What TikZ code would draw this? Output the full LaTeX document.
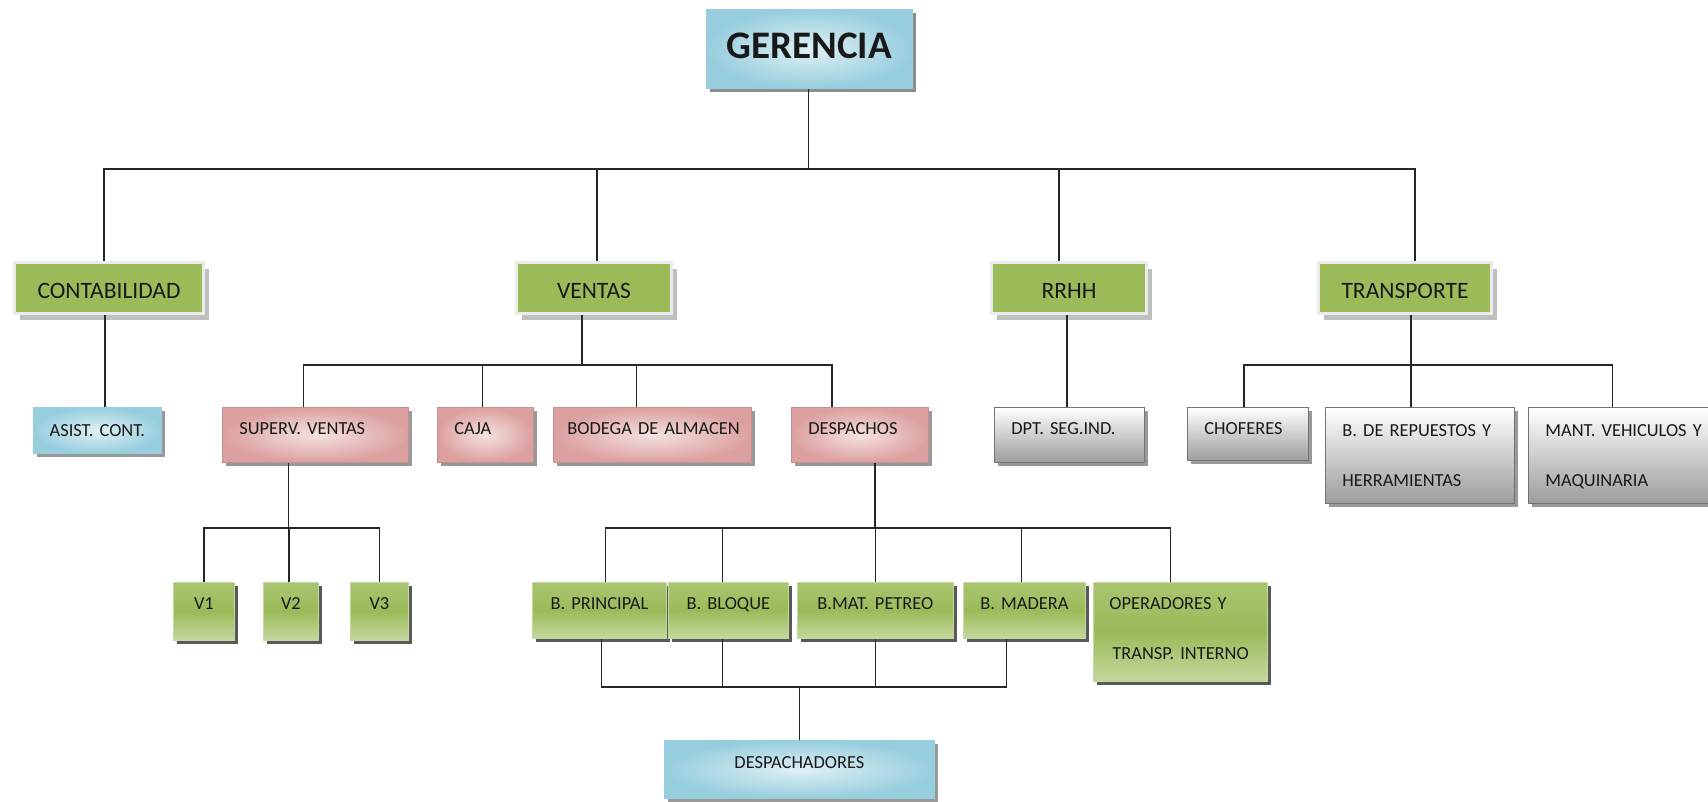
\documentclass[tikz,border=0pt]{standalone}
\usepackage{fontspec}
\setmainfont{Carlito}
\usetikzlibrary{shadows}
\definecolor{deptGreen}{HTML}{9BBB59}
\definecolor{frameGray}{HTML}{EBEBEB}
\definecolor{blueLight}{HTML}{E0F0F5}
\definecolor{blueDark}{HTML}{97CEDD}
\definecolor{pinkLight}{HTML}{F4E2E1}
\definecolor{pinkDark}{HTML}{DBA09F}
\definecolor{grayDark}{HTML}{9C9C9C}
\definecolor{greenLight}{HTML}{C4D79E}
\definecolor{greenTop}{HTML}{A9C571}

\begin{document}
\begin{tikzpicture}[x=1pt, y=-1pt]
  \tikzset{
    every node/.style={inner sep=0pt, text=black!90},
    chart line/.style={draw=black!85, line width=1.2pt},
    ceo/.style={anchor=north west, inner color=blueLight, outer color=blueDark, draw=blueDark,
      line width=0.8pt, font=\bfseries\fontsize{39}{44}\selectfont, align=center,
      text height=49.5pt, text depth=29.5pt,
      drop shadow={shadow xshift=4pt, shadow yshift=-4pt, fill=black!45, opacity=1}},
    dept/.style={anchor=north west, fill=deptGreen, draw=frameGray, line width=3pt,
      font=\fontsize{23.5}{28}\selectfont, align=center, text height=35.6pt, text depth=15.4pt,
      drop shadow={shadow xshift=5pt, shadow yshift=-6pt, fill=black!25, opacity=1}},
    unit/.style={anchor=north west, font=\fontsize{18.4}{50}\selectfont, inner xsep=17pt,
      inner ysep=0pt, align=left, text height=27.3pt, text depth=27.7pt, line width=0.8pt},
    mid/.style={inner xsep=0pt, align=center},
    bluebox/.style={inner color=blueLight, outer color=blueDark, draw=blueDark,
      drop shadow={shadow xshift=4pt, shadow yshift=-4pt, fill=black!40, opacity=1}},
    pinkbox/.style={inner color=pinkLight, outer color=pinkDark, draw=pinkDark!90!black,
      drop shadow={shadow xshift=4pt, shadow yshift=-4pt, fill=black!40, opacity=1}},
    graybox/.style={top color=white, bottom color=grayDark, draw=black!55,
      drop shadow={shadow xshift=4pt, shadow yshift=-4pt, fill=black!40, opacity=1}},
    greenbox/.style={top color=greenTop, bottom color=greenLight, middle color=deptGreen,
      draw=greenLight,
      drop shadow={shadow xshift=4pt, shadow yshift=-4pt, fill=black!65, opacity=1}}
  }
  \useasboundingbox (0,0) rectangle (1708,801);

  \node[ceo, text width=206pt] (ger) at (706,9) {GERENCIA};

  \node[dept, text width=189pt] (contab) at (13,261) {CONTABILIDAD};
  \node[dept, text width=155pt] (ventas) at (515,261) {VENTAS};
  \node[dept, text width=155pt] (rrhh) at (990,261) {RRHH};
  \node[dept, text width=173pt] (transp) at (1317,261) {TRANSPORTE};

  \node[unit, bluebox, mid, text width=128pt, text height=28.9pt, text depth=17.1pt] (asist) at (33,407) {ASIST. CONT.};
  \node[unit, pinkbox, text width=152pt] (superv) at (222,407) {SUPERV. VENTAS};
  \node[unit, pinkbox, text width=62pt] (caja) at (437,407) {CAJA};
  \node[unit, pinkbox, inner xsep=14pt, text width=170pt] (bodega) at (553,407) {\mbox{BODEGA DE ALMACEN}};
  \node[unit, pinkbox, text width=103pt] (desp) at (791,407) {DESPACHOS};
  \node[unit, graybox, text width=116pt] (dpt) at (994,407) {DPT. SEG.IND.};
  \node[unit, graybox, text width=87pt, text depth=25.7pt] (chof) at (1187,407) {CHOFERES};
  \node[unit, graybox, text width=155pt, text height=28.9pt, text depth=67.1pt] (brep) at (1325,407) {\mbox{B. DE REPUESTOS Y}\\HERRAMIENTAS};
  \node[unit, graybox, text width=166pt, text height=28.9pt, text depth=67.1pt] (mant) at (1528,407) {\mbox{MANT. VEHICULOS Y}\\MAQUINARIA};

  \node[unit, greenbox, mid, text width=61pt, text depth=30.7pt] (v1) at (173,582) {V1};
  \node[unit, greenbox, mid, text width=55pt, text depth=30.7pt] (v2) at (263,582) {V2};
  \node[unit, greenbox, mid, text width=58pt, text depth=30.7pt] (v3) at (350,582) {V3};

  \node[unit, greenbox, mid, text width=134pt, text depth=28.7pt] (bprin) at (532,582) {B. PRINCIPAL};
  \node[unit, greenbox, mid, text width=120pt, text depth=28.7pt] (bbloq) at (668,582) {B. BLOQUE};
  \node[unit, greenbox, mid, text width=156pt, text depth=28.7pt] (bmat) at (797,582) {B.MAT. PETREO};
  \node[unit, greenbox, mid, text width=122pt, text depth=28.7pt] (bmad) at (963,582) {B. MADERA};
  \node[unit, greenbox, inner xsep=16pt, text width=142pt, text depth=71.7pt] (oper) at (1093,582) {OPERADORES Y\\\hspace*{3pt}\mbox{TRANSP. INTERNO}};

  \node[unit, bluebox, mid, text width=270pt, text height=27.9pt, text depth=30.1pt] (despach) at (664,740) {DESPACHADORES};

  \coordinate (bus0) at (0,169);
  \coordinate (bus1) at (0,365);
  \coordinate (bus2) at (0,528);
  \coordinate (bus3) at (0,687);

  \draw[chart line] ([xshift=-1pt]ger.south) -- ([xshift=-1pt]ger.south |- bus0);
  \draw[chart line] ([xshift=-5pt]contab.north) |- ([xshift=10pt]transp.north |- bus0) -- ([xshift=10pt]transp.north);
  \draw[chart line] ([xshift=3pt]ventas.north) -- ([xshift=3pt]ventas.north |- bus0);
  \draw[chart line] ([xshift=-10pt]rrhh.north) -- ([xshift=-10pt]rrhh.north |- bus0);

  \draw[chart line] ([xshift=-4pt]contab.south) -- ([xshift=-4pt]contab.south |- asist.north);
  \draw[chart line] ([xshift=-12pt]ventas.south) -- ([xshift=-12pt]ventas.south |- bus1);
  \draw[chart line] ([xshift=-12pt]superv.north) |- ([xshift=-28pt]desp.north |- bus1) -- ([xshift=-28pt]desp.north);
  \draw[chart line] ([xshift=-3pt]caja.north) -- ([xshift=-3pt]caja.north |- bus1);
  \draw[chart line] ([xshift=-16pt]bodega.north) -- ([xshift=-16pt]bodega.north |- bus1);
  \draw[chart line] ([xshift=-2pt]rrhh.south) -- ([xshift=-2pt]rrhh.south |- dpt.north);
  \draw[chart line] ([xshift=6pt]transp.south) -- ([xshift=6pt]transp.south |- bus1);
  \draw[chart line] ([xshift=-4pt]chof.north) |- ([xshift=-16pt]mant.north |- bus1) -- ([xshift=-16pt]mant.north);
  \draw[chart line] ([xshift=-9pt]brep.north) -- ([xshift=-9pt]brep.north |- bus1);

  \draw[chart line] ([xshift=-27pt]superv.south) -- ([xshift=-27pt]superv.south |- bus2);
  \draw[chart line] (v1.north) |- (v3.north |- bus2) -- (v3.north);
  \draw[chart line] ([xshift=-2pt]v2.north) -- ([xshift=-2pt]v2.north |- bus2);

  \draw[chart line] ([xshift=15pt]desp.south) -- ([xshift=15pt]desp.south |- bus2);
  \draw[chart line] ([xshift=6pt]bprin.north) |- ([xshift=-10pt]oper.north |- bus2) -- ([xshift=-10pt]oper.north);
  \draw[chart line] ([xshift=-6pt]bbloq.north) -- ([xshift=-6pt]bbloq.north |- bus2);
  \draw[chart line] (bmat.north) -- (bmat.north |- bus2);
  \draw[chart line] ([xshift=-3pt]bmad.north) -- ([xshift=-3pt]bmad.north |- bus2);

  \draw[chart line] ([xshift=2pt]bprin.south) |- ([xshift=-18pt]bmad.south |- bus3) -- ([xshift=-18pt]bmad.south);
  \draw[chart line] ([xshift=-6pt]bbloq.south) -- ([xshift=-6pt]bbloq.south |- bus3);
  \draw[chart line] (bmat.south) -- (bmat.south |- bus3);
  \draw[chart line] (despach.north) -- (despach.north |- bus3);
\end{tikzpicture}
\end{document}
